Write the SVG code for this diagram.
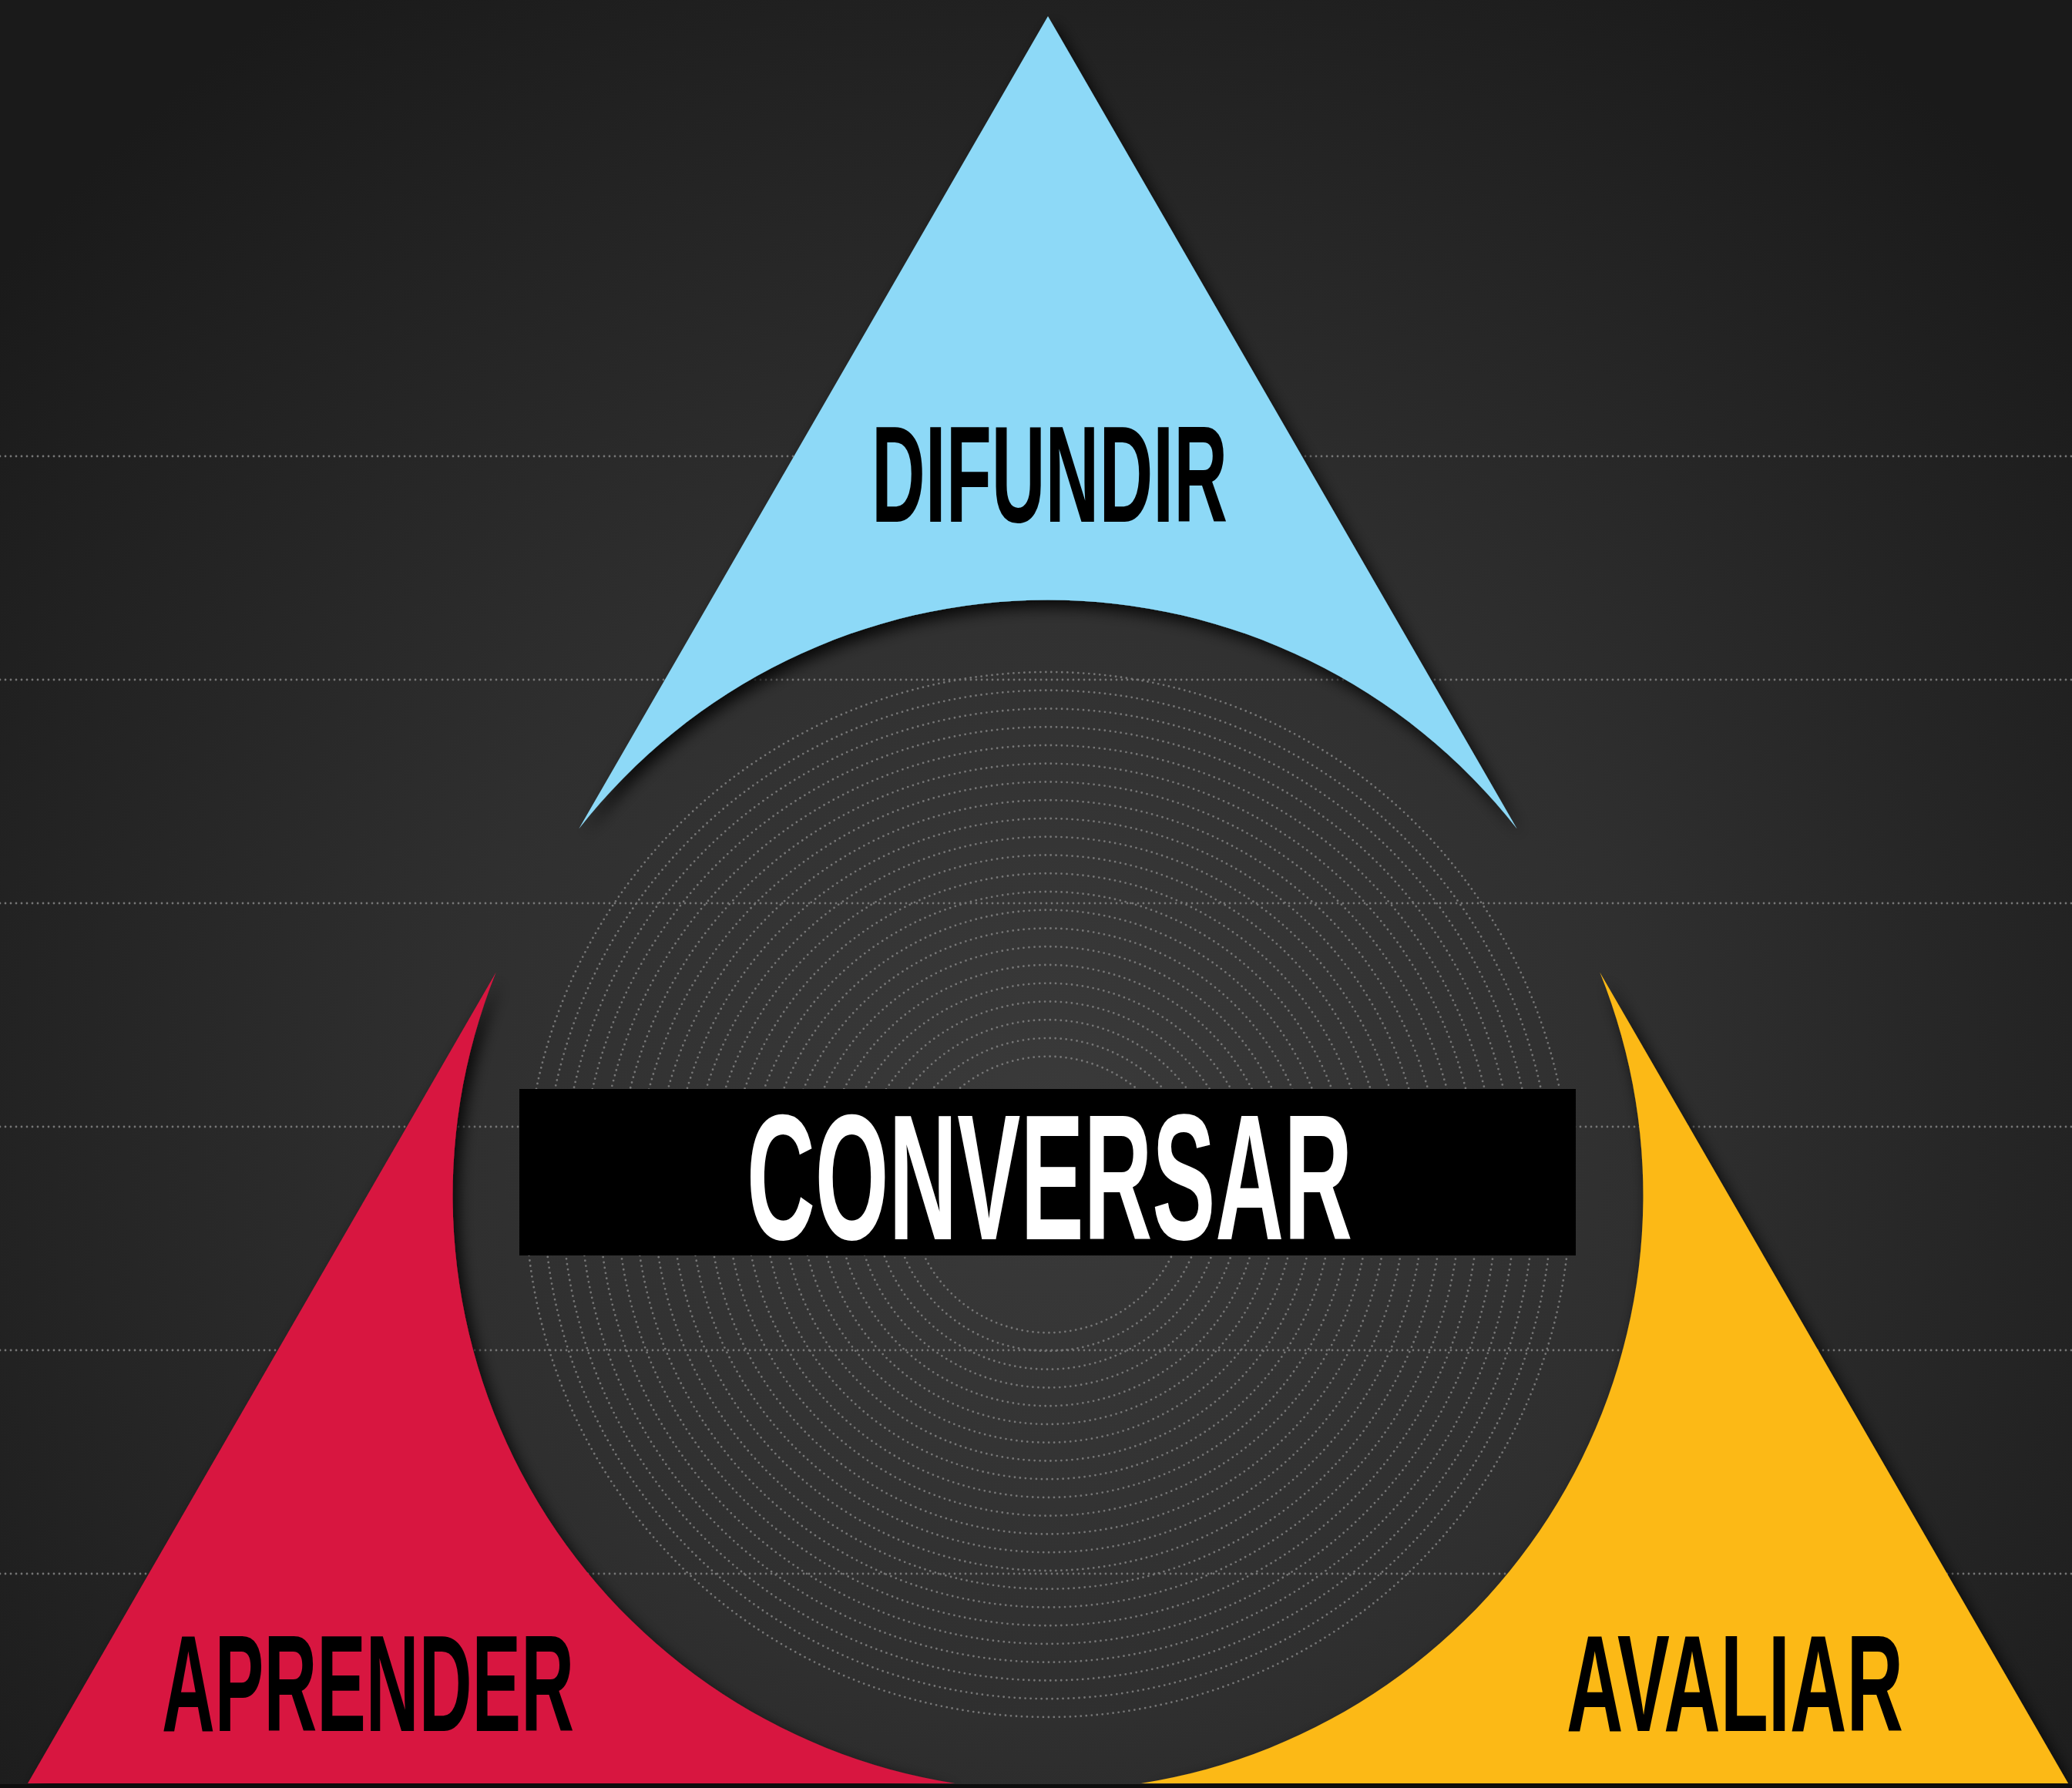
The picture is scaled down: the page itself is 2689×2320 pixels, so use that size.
<svg xmlns="http://www.w3.org/2000/svg" width="2689" height="2320" viewBox="0 0 2689 2320">
  <defs>
    <radialGradient id="bg" cx="1360" cy="1450" r="1750" gradientUnits="userSpaceOnUse">
      <stop offset="0" stop-color="#3a3a3a"/>
      <stop offset="0.45" stop-color="#2f2f2f"/>
      <stop offset="1" stop-color="#1a1a1a"/>
    </radialGradient>
    <filter id="sh" x="-15%" y="-15%" width="130%" height="130%">
      <feGaussianBlur in="SourceAlpha" stdDeviation="10"/>
      <feOffset dx="7" dy="9" result="o"/>
      <feComponentTransfer><feFuncA type="linear" slope="0.85"/></feComponentTransfer>
      <feMerge><feMergeNode/><feMergeNode in="SourceGraphic"/></feMerge>
    </filter>
  </defs>
  <style>
    .dots{fill:none;stroke:#767676;stroke-width:2.8;stroke-dasharray:0 7;stroke-linecap:round}
    .lbl{font-family:"Liberation Sans Narrow","Liberation Sans","DejaVu Sans Condensed",sans-serif;font-weight:bold;font-size:179px;fill:#000}
    .big{font-family:"Liberation Sans Narrow","Liberation Sans","DejaVu Sans Condensed",sans-serif;font-weight:bold;font-size:232px;fill:#fff}
  </style>
  <rect x="0" y="0" width="2689" height="2320" fill="url(#bg)"/>
  <g id="grid">
    <path class="dots" d="M0 592H2689M0 882H2689M0 1172H2689M0 1462H2689M0 1752H2689M0 2042H2689"/>
  </g>
  <g id="rings">
    <circle class="dots" cx="1360" cy="1550" r="678"/>
    <circle class="dots" cx="1360" cy="1550" r="654.25"/>
    <circle class="dots" cx="1360" cy="1550" r="630.5"/>
    <circle class="dots" cx="1360" cy="1550" r="606.75"/>
    <circle class="dots" cx="1360" cy="1550" r="583"/>
    <circle class="dots" cx="1360" cy="1550" r="559.25"/>
    <circle class="dots" cx="1360" cy="1550" r="535.5"/>
    <circle class="dots" cx="1360" cy="1550" r="511.75"/>
    <circle class="dots" cx="1360" cy="1550" r="488"/>
    <circle class="dots" cx="1360" cy="1550" r="464.25"/>
    <circle class="dots" cx="1360" cy="1550" r="440.5"/>
    <circle class="dots" cx="1360" cy="1550" r="416.75"/>
    <circle class="dots" cx="1360" cy="1550" r="393"/>
    <circle class="dots" cx="1360" cy="1550" r="369.25"/>
    <circle class="dots" cx="1360" cy="1550" r="345.5"/>
    <circle class="dots" cx="1360" cy="1550" r="321.75"/>
    <circle class="dots" cx="1360" cy="1550" r="298"/>
    <circle class="dots" cx="1360" cy="1550" r="274.25"/>
    <circle class="dots" cx="1360" cy="1550" r="250.5"/>
    <circle class="dots" cx="1360" cy="1550" r="226.75"/>
    <circle class="dots" cx="1360" cy="1550" r="203"/>
    <circle class="dots" cx="1360" cy="1550" r="179.25"/>
  </g>
  <g id="connectors"/>
  <g id="node-difundir">
    <path d="M1360 21L751.2 1075.5A772.5 772.5 0 0 1 1968.8 1075.5Z" fill="#8dd9f7" filter="url(#sh)"/>
    <text class="lbl" x="1131" y="677" textLength="462" lengthAdjust="spacingAndGlyphs">DIFUNDIR</text>
  </g>
  <g id="node-aprender">
    <path d="M643.8 1261.5L36 2314L1239.2 2314A772.5 772.5 0 0 1 643.8 1261.5Z" fill="#d81640" filter="url(#sh)"/>
    <text class="lbl" x="210" y="2246" textLength="535" lengthAdjust="spacingAndGlyphs">APRENDER</text>
  </g>
  <g id="node-avaliar">
    <path d="M2076.2 1261.5A772.5 772.5 0 0 1 1480.8 2314L2684 2314Z" fill="#fcb916" filter="url(#sh)"/>
    <text class="lbl" x="2033" y="2246" textLength="437" lengthAdjust="spacingAndGlyphs">AVALIAR</text>
  </g>
  <rect x="0" y="2315" width="2689" height="5" fill="#0d0d0d"/>
  <g id="node-conversar">
    <rect x="674" y="1413" width="1371" height="216" fill="#000"/>
    <text class="big" x="969" y="1608" textLength="786" lengthAdjust="spacingAndGlyphs">CONVERSAR</text>
  </g>
</svg>
